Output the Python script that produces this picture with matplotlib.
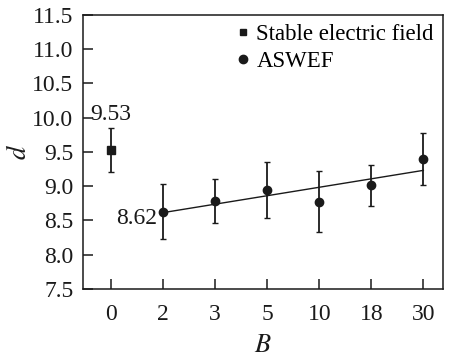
import numpy as np
import matplotlib
matplotlib.use('Agg')
import matplotlib.pyplot as plt
from matplotlib.lines import Line2D

plt.rcParams['font.family'] = ['Liberation Serif', 'DejaVu Serif']
plt.rcParams['mathtext.fontset'] = 'stix'

# data
B_LABELS = ['0', '2', '3', '5', '10', '18', '30']
STABLE_D = [9.53]
STABLE_ERR = [0.32]
ASWEF_D = [8.63, 8.78, 8.95, 8.775, 9.01, 9.39]
ASWEF_ERR = [0.40, 0.32, 0.41, 0.45, 0.30, 0.38]

ink = '#1a1a1a'

fig = plt.figure(figsize=(4.54, 3.63), dpi=100)
ax = fig.add_axes([0.183, 0.204, 0.793, 0.755])

x_pos = np.arange(len(B_LABELS))
x_stable = x_pos[:1]
x_aswef = x_pos[1:]

ax.errorbar(x_stable, STABLE_D, yerr=STABLE_ERR, fmt='s', color=ink, ms=5.5,
            capsize=2.5, elinewidth=1.3, capthick=1.0)
ax.errorbar(x_aswef, ASWEF_D, yerr=ASWEF_ERR, fmt='o', color=ink, ms=6,
            capsize=2.5, elinewidth=1.3, capthick=1.0)

# linear fit through the ASWEF points
coef = np.polyfit(x_aswef, ASWEF_D, 1)
ax.plot(x_aswef, np.polyval(coef, x_aswef), color=ink, lw=1.0)

ax.text(x_stable[0], STABLE_D[0] + 0.36, '9.53', ha='center', va='bottom',
        fontsize=17, color=ink)
ax.text(x_aswef[0] - 0.12, ASWEF_D[0] - 0.1, '8.62', ha='right', va='center',
        fontsize=17, color=ink)

ax.set_xlim(-0.54, 6.38)
ax.set_ylim(7.5, 11.5)
ax.set_xticks(x_pos)
ax.set_xticklabels(B_LABELS)
ax.set_yticks(np.arange(7.5, 11.51, 0.5))
ax.set_yticklabels([f'{v:.1f}' for v in np.arange(7.5, 11.51, 0.5)])
ax.tick_params(direction='in', length=7, width=1.1, labelsize=17, colors=ink,
               pad=7)
ax.tick_params(axis='x', pad=11)
for sp in ax.spines.values():
    sp.set_linewidth(1.1)
    sp.set_color(ink)

ax.set_xlabel('$B$', fontsize=19, color=ink, labelpad=7)
ax.set_ylabel('$d$', fontsize=19, color=ink, labelpad=1)

handles = [Line2D([], [], ls='none', marker='s', ms=5, color=ink),
           Line2D([], [], ls='none', marker='o', ms=6, color=ink)]
ax.legend(handles, ['Stable electric field', 'ASWEF'], loc='upper right',
          frameon=False, fontsize=16.5, handletextpad=0.1, borderaxespad=0.0,
          labelspacing=0.25, handlelength=1.0)

fig.savefig('out.png', dpi=100)
